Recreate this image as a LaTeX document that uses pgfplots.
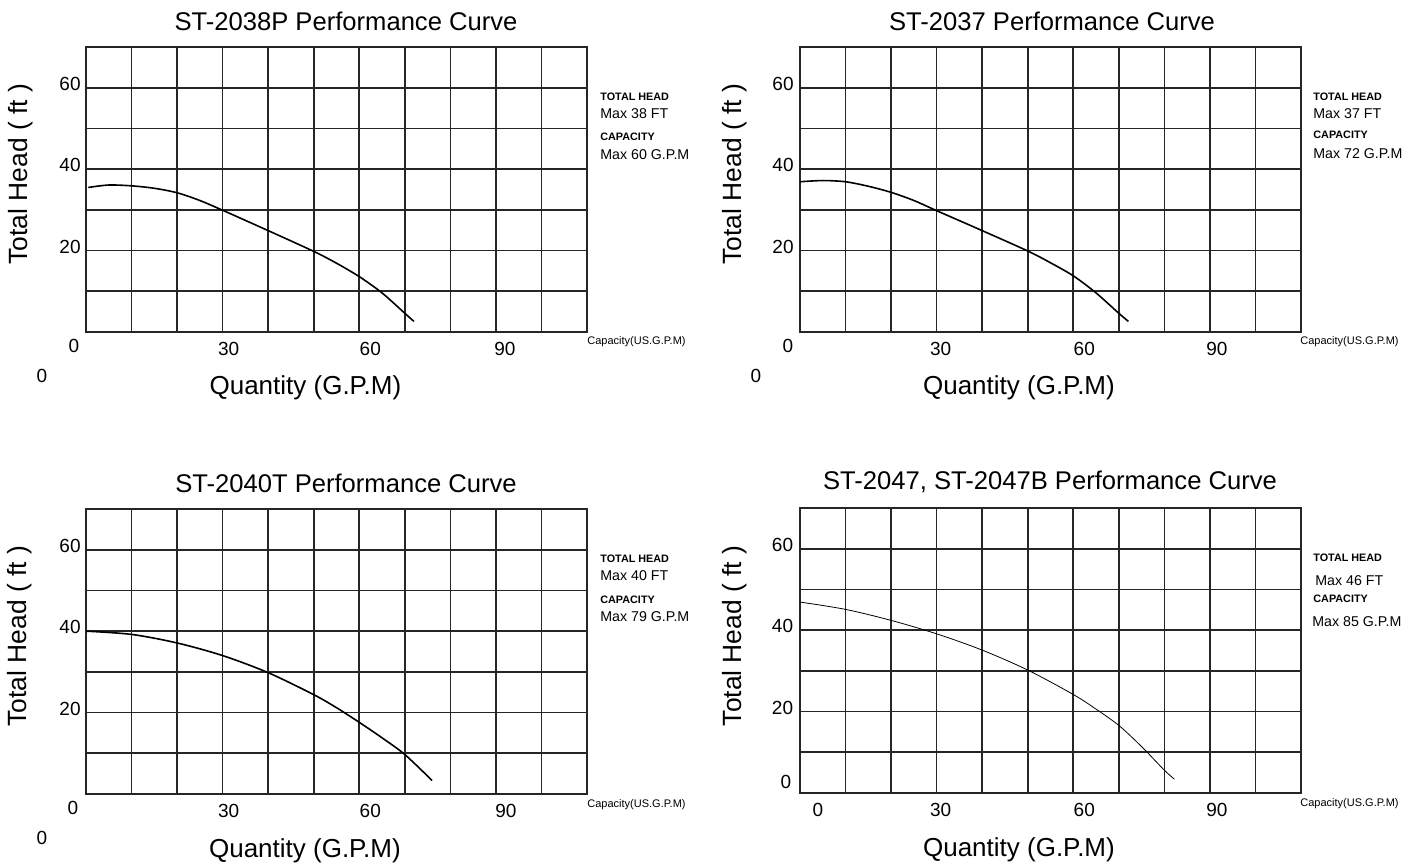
\documentclass[border=0pt]{standalone}
\usepackage{fontspec}
\setmainfont{Liberation Sans}
\usepackage{pgfplots}
\pgfplotsset{compat=1.18}

% tick label whose centre sits #1 away from its tick
\newcommand\tl[2]{\hbox to 0pt{\hss\kern#1\kern#1\relax #2\hss}}

\pgfplotsset{
  pump/.style={
    scale only axis, width=250.5pt, height=142.5pt,
    xmin=0, xmax=110, ymin=0, ymax=70,
    axis line style={black!85, line width=0.8pt},
    minor xtick={0,10,...,110}, minor ytick={0,10,...,70},
    xminorgrids=true, yminorgrids=true,
    minor grid style={black!85, line width=0.8pt},
    major tick length=0pt, minor tick length=0pt,
    xtick={0,30,60,90}, ytick={20,40,60},
    /pgf/number format/assume math mode=true,
    tick label style={font=\fontsize{9.5}{10}\selectfont, inner sep=0pt},
    xticklabel style={anchor=base, yshift=-11.65pt},
    yticklabel style={anchor=base east, xshift=-2.5pt, yshift=-1.4pt},
    title style={font=\fontsize{12.8}{14}\selectfont, anchor=center, yshift=-6pt},
    xlabel style={font=\fontsize{13}{14}\selectfont, anchor=center},
    ylabel style={font=\fontsize{13.2}{14}\selectfont, anchor=center},
    xlabel={Quantity (G.P.M)}, ylabel={Total Head ( ft )},
  },
  curve/.style={black, line width=0.8pt, smooth, no markers},
}

\begin{document}
\begin{tikzpicture}
\useasboundingbox (0,0) rectangle (707.5pt,-433.5pt);

% ST-2038P
\begin{axis}[pump, at={(43pt,-166pt)}, anchor=south west,
  title={ST-2038P Performance Curve},
  title style={at={(0.519,1.091)}},
  xlabel style={at={(0.438,-0.196)}},
  ylabel style={at={(-0.131,0.554)}},
  xticklabels={\tl{-6pt}{\raisebox{1.5pt}{0}},\tl{3pt}{30},\tl{5.5pt}{60},\tl{4.5pt}{90}}]
\addplot[curve] coordinates {
(0.5,35.5)(5,36.1)(10,35.9)(15,35.3)(20,34.2)(25,32.3)(30,29.9)(40,24.9)
(50,19.8)(55,16.9)(60,13.6)(65,9.6)(70,4.6)(72,2.6)};
\end{axis}

% ST-2037
\begin{axis}[pump, at={(400pt,-166pt)}, anchor=south west,
  title={ST-2037 Performance Curve},
  title style={at={(0.503,1.091)}},
  xlabel style={at={(0.437,-0.196)}},
  ylabel style={at={(-0.130,0.554)}},
  yticklabel style={xshift=-0.5pt},
  xticklabels={\tl{-6pt}{\raisebox{1.5pt}{0}},\tl{2pt}{30},\tl{5.5pt}{60},\tl{3.5pt}{90}}]
\addplot[curve] coordinates {
(0,36.9)(5,37.2)(10,36.9)(15,35.8)(20,34.3)(25,32.3)(30,29.8)(40,24.9)
(50,19.9)(55,17.0)(60,13.8)(65,9.6)(70,4.6)(72.1,2.6)};
\end{axis}

% ST-2040T
\begin{axis}[pump, at={(43pt,-397pt)}, anchor=south west,
  title={ST-2040T Performance Curve},
  title style={at={(0.519,1.091)}},
  xlabel style={at={(0.437,-0.200)}},
  ylabel style={at={(-0.132,0.554)}},
  xticklabels={\tl{-6.5pt}{\raisebox{1.5pt}{0}},\tl{3pt}{30},\tl{5.5pt}{60},\tl{5pt}{90}}]
\addplot[curve] coordinates {
(0,40.0)(10,39.2)(20,37.1)(30,34.0)(40,29.8)(50,24.4)(55,21.2)(60,17.6)
(65,13.8)(70,9.7)(76,3.3)};
\end{axis}

% ST-2047, ST-2047B
\begin{axis}[pump, at={(400pt,-396.5pt)}, anchor=south west,
  title={ST-2047, ST-2047B Performance Curve},
  title style={at={(0.499,1.091)}},
  xlabel style={at={(0.437,-0.200)}},
  ylabel style={at={(-0.130,0.551)}},
  ytick={0,20,40,60},
  yticklabels={\raisebox{3.5pt}{0\kern1pt},20,40,60},
  yticklabel style={xshift=-0.75pt},
  xticklabels={\tl{9pt}{0},\tl{2pt}{30},\tl{5.5pt}{60},\tl{3.5pt}{90}}]
\addplot[black, line width=0.4pt, smooth, no markers] coordinates {
(0,46.9)(10,45.1)(20,42.4)(30,39.1)(40,35.1)(50,30.2)(60,24.2)(65,20.6)
(70,16.6)(75,11.4)(80,5.6)(82.2,3.4)};
\end{axis}

% side notes
\begin{scope}[every node/.style={anchor=west, inner sep=0pt}]
\def\hd{\fontsize{5.4}{6}\selectfont\bfseries}
\def\mx{\fontsize{7.1}{8}\selectfont}
\def\cp{\fontsize{5.5}{6}\selectfont}
\node[font=\hd] at (300pt,-48.5pt) {TOTAL HEAD};
\node[font=\mx] at (300pt,-57pt) {Max 38 FT};
\node[font=\hd] at (300pt,-68.5pt) {CAPACITY};
\node[font=\mx] at (300pt,-77.5pt) {Max 60 G.P.M};
\node[font=\cp] at (293.5pt,-171pt) {Capacity(US.G.P.M)};

\node[font=\hd] at (656.5pt,-48.5pt) {TOTAL HEAD};
\node[font=\mx] at (656.5pt,-57pt) {Max 37 FT};
\node[font=\hd] at (656.5pt,-67.5pt) {CAPACITY};
\node[font=\mx] at (656.5pt,-77pt) {Max 72 G.P.M};
\node[font=\cp] at (650pt,-171pt) {Capacity(US.G.P.M)};

\node[font=\hd] at (300pt,-279.5pt) {TOTAL HEAD};
\node[font=\mx] at (300pt,-288pt) {Max 40 FT};
\node[font=\hd] at (300pt,-300pt) {CAPACITY};
\node[font=\mx] at (300pt,-308.5pt) {Max 79 G.P.M};
\node[font=\cp] at (293.5pt,-402.5pt) {Capacity(US.G.P.M)};

\node[font=\hd] at (656.5pt,-279pt) {TOTAL HEAD};
\node[font=\mx] at (657.5pt,-290.5pt) {Max 46 FT};
\node[font=\hd] at (656.5pt,-299.5pt) {CAPACITY};
\node[font=\mx] at (656pt,-311pt) {Max 85 G.P.M};
\node[font=\cp] at (650pt,-402pt) {Capacity(US.G.P.M)};
\end{scope}

% stray zeros below the left corners
\begin{scope}[every node/.style={inner sep=0pt, font=\fontsize{9.5}{10}\selectfont}]
\node at (21pt,-188pt) {0};
\node at (378pt,-188pt) {0};
\node at (21pt,-419pt) {0};
\end{scope}
\end{tikzpicture}
\end{document}
